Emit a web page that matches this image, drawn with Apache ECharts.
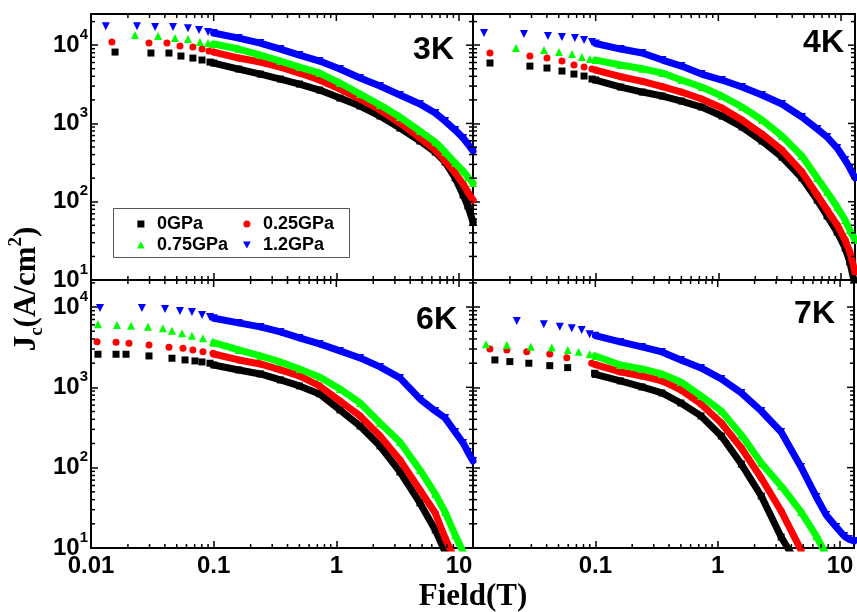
<!DOCTYPE html>
<html><head><meta charset="utf-8">
<script src="https://cdn.jsdelivr.net/npm/echarts@6/dist/echarts.min.js"></script>
<style>html,body{margin:0;padding:0;background:#fff}#c{width:857px;height:612px}</style>
</head><body><div id="c"></div>
<script>
// ---------- data ----------
const seriesNames = ['0GPa', '0.25GPa', '0.75GPa', '1.2GPa'];
const panelLabels = ['3K', '4K', '6K', '7K'];
// common field grid (T) for the dense high-field part of every curve
const fieldGrid = [0.1, 0.16, 0.24, 0.35, 0.5, 0.73, 1.07, 1.56, 2.27, 3.3, 4.8, 6.4, 7.7, 9.3, 10.8, 11.8, 13];

// 3K
const k3_0GPa_lowB = [0.0157, 0.0308, 0.0432, 0.0541, 0.0677, 0.0803, 0.0933];
const k3_0GPa_lowJ = [8160, 7930, 7930, 7260, 6840, 6460, 6080];
const k3_0GPa_J = [5908, 4953, 4274, 3691, 3186, 2671, 2110, 1669, 1243, 873, 596, 431, 321, 201, 122, 88.1, 55.1];
const k3_025_lowB = [0.0148, 0.0297, 0.0416, 0.0531, 0.0677, 0.0804, 0.0915];
const k3_025_lowJ = [10960, 10650, 10650, 9730, 9460, 8920, 8410];
const k3_025_J = [8165, 6844, 6085, 5253, 4403, 3584, 2750, 2050, 1484, 1012, 651, 457, 331, 233, 168, 133, 105];
const k3_075_lowB = [0.0228, 0.0352, 0.0484, 0.0617, 0.0773, 0.090];
const k3_075_lowJ = [13500, 13100, 12300, 11950, 10960, 10650];
const k3_075_J = [10330, 8916, 7475, 6266, 5253, 4403, 3281, 2374, 1718, 1207, 800, 579, 431, 312, 247, 207, 173];
const k3_12_lowB = [0.0132, 0.0237, 0.0333, 0.0466, 0.0617, 0.0759, 0.090];
const k3_12_lowJ = [17500, 17500, 17000, 17000, 16500, 15600, 14700];
const k3_12_J = [14276, 12320, 10637, 8916, 7475, 6266, 4953, 3801, 3004, 2306, 1769, 1358, 1073, 824, 651, 546, 444];

// 4K
const k4_0GPa_lowB = [0.01375, 0.0291, 0.0401, 0.0531, 0.0665, 0.0804, 0.0933];
const k4_0GPa_lowJ = [5910, 5400, 5100, 4670, 4275, 4030, 3690];
const k4_0GPa_J = [3584, 2917, 2518, 2239, 1933, 1620, 1243, 900, 596, 372, 201, 105, 65.7, 41.0, 25.6, 17.0, 8.6];
const k4_025_lowB = [0.01375, 0.0291, 0.0401, 0.0531, 0.0665, 0.0804, 0.0933];
const k4_025_lowJ = [7930, 7260, 6840, 6270, 5570, 5250, 4950];
const k4_025_J = [4800, 3950, 3450, 2950, 2518, 2050, 1573, 1105, 732, 457, 240, 122, 78.4, 50.4, 32.4, 22.8, 12.7];
const k4_075_lowB = [0.0224, 0.0379, 0.0502, 0.0641, 0.0773, 0.0898];
const k4_075_lowJ = [9190, 8660, 8160, 7700, 7050, 6645];
const k4_075_J = [6450, 5570, 5000, 4400, 3584, 2917, 2239, 1620, 1105, 691, 383, 201, 133, 85.6, 58.4, 43.5, 32.4];
const k4_12_lowB = [0.0123, 0.026, 0.0408, 0.0531, 0.0677, 0.0804, 0.0933];
const k4_12_lowJ = [14270, 13860, 13060, 12690, 12320, 11610, 10960];
const k4_12_J = [10500, 8916, 7930, 6452, 5410, 4274, 3584, 2917, 2306, 1769, 1207, 848, 671, 485, 341, 269, 201];

// 6K
const k6_0GPa_lowB = [0.0114, 0.016, 0.0193, 0.0297, 0.0457, 0.0584, 0.0704, 0.0803, 0.0933];
const k6_0GPa_lowJ = [2584, 2584, 2584, 2461, 2304, 2194, 2133, 2072, 1996];
const k6_0GPa_J = [1900, 1647, 1469, 1237, 1041, 828, 523, 331, 186, 88.4, 36.4, 16.8, 8.9];
const k6_025_lowB = [0.0112, 0.016, 0.0204, 0.0297, 0.0432, 0.0562, 0.0677, 0.0818, 0.0987];
const k6_025_lowJ = [3709, 3645, 3542, 3375, 3159, 3069, 2923, 2784, 2660];
const k6_025_J = [2600, 2194, 1956, 1647, 1387, 1041, 677, 441, 248, 125, 52.8, 27.3, 13.3, 7.1];
const k6_075_lowB = [0.0114, 0.0163, 0.0212, 0.0291, 0.0386, 0.0457, 0.0552, 0.0665, 0.0818, 0.0987];
const k6_075_lowJ = [6107, 5986, 5861, 5700, 5445, 5082, 4718, 4403, 4086, 3697];
const k6_075_J = [3600, 2923, 2461, 2072, 1695, 1348, 955, 639, 360, 209, 93.6, 47.1, 28.1, 14.5, 8.9, 6.1];
const k6_12_lowB = [0.01184, 0.026, 0.0401, 0.0531, 0.0665, 0.0804, 0.0933];
const k6_12_lowJ = [9747, 9747, 9474, 8946, 8692, 7976, 7531];
const k6_12_J = [7250, 6340, 5655, 4898, 4124, 3472, 2841, 2324, 1796, 1310, 717, 508, 416, 278, 203, 157, 121];

// 7K
const k7_0GPa_lowB = [0.0151, 0.02, 0.0286, 0.0424, 0.0594, 0.0986];
const k7_0GPa_lowJ = [2194, 2092, 1996, 1864, 1760, 1498];
const k7_0GPa_J = [1450, 1202, 1012, 852, 639, 441, 248, 111, 44.4, 13.7, 5.3];
const k7_025_lowB = [0.01375, 0.0189, 0.0275, 0.0424, 0.0584, 0.0933];
const k7_025_lowJ = [3009, 2923, 2784, 2607, 2344, 1996];
const k7_025_J = [1920, 1556, 1387, 1202, 928, 621, 360, 176, 74.4, 28.9, 9.4];
const k7_075_lowB = [0.01277, 0.0189, 0.0297, 0.044, 0.0594, 0.0731, 0.0898];
const k7_075_lowJ = [3442, 3375, 3213, 3123, 2923, 2784, 2584];
const k7_075_J = [2460, 1902, 1695, 1469, 1168, 782, 508, 256, 114, 59.2, 28.1, 14.1, 8.2];
const k7_12_lowB = [0.0228, 0.0379, 0.0512, 0.0641, 0.0773, 0.0898];
const k7_12_lowJ = [6714, 6107, 5700, 5445, 5186, 4585];
const k7_12_J = [4400, 3677, 3186, 2760, 2194, 1745, 1273, 852, 508, 278, 102, 43.2, 25.8, 18.3, 14.1, 12.9, 12.2];

// axis ticks
const majorField = [0.01, 0.1, 1, 10];
const minorField = [0.02, 0.03, 0.04, 0.05, 0.06, 0.07, 0.08, 0.09, 0.2, 0.3, 0.4, 0.5, 0.6, 0.7, 0.8, 0.9, 2, 3, 4, 5, 6, 7, 8, 9];
const majorJc = [10, 100, 1000, 10000];
const minorJc = [20, 30, 40, 50, 60, 70, 80, 90, 200, 300, 400, 500, 600, 700, 800, 900, 2000, 3000, 4000, 5000, 6000, 7000, 8000, 9000, 20000];

// ---------- chart ----------
const panels = [
  [[k3_0GPa_lowB, k3_0GPa_lowJ, k3_0GPa_J], [k3_025_lowB, k3_025_lowJ, k3_025_J], [k3_075_lowB, k3_075_lowJ, k3_075_J], [k3_12_lowB, k3_12_lowJ, k3_12_J]],
  [[k4_0GPa_lowB, k4_0GPa_lowJ, k4_0GPa_J], [k4_025_lowB, k4_025_lowJ, k4_025_J], [k4_075_lowB, k4_075_lowJ, k4_075_J], [k4_12_lowB, k4_12_lowJ, k4_12_J]],
  [[k6_0GPa_lowB, k6_0GPa_lowJ, k6_0GPa_J], [k6_025_lowB, k6_025_lowJ, k6_025_J], [k6_075_lowB, k6_075_lowJ, k6_075_J], [k6_12_lowB, k6_12_lowJ, k6_12_J]],
  [[k7_0GPa_lowB, k7_0GPa_lowJ, k7_0GPa_J], [k7_025_lowB, k7_025_lowJ, k7_025_J], [k7_075_lowB, k7_075_lowJ, k7_075_J], [k7_12_lowB, k7_12_lowJ, k7_12_J]]
];

const SANS = '"Liberation Sans", Arial, Helvetica, sans-serif';
const SERIF = '"Liberation Serif", "Times New Roman", Times, serif';
const X_MIN = 0.01, X_MAX = 13, Y_MIN = 10;
const yMax = [25000, 25000, 21700, 21700];
const gridBoxes = [
  {left: 91, top: 14, width: 382, height: 266},
  {left: 473, top: 14, width: 382, height: 266},
  {left: 91, top: 280, width: 382, height: 268},
  {left: 473, top: 280, width: 382, height: 268}
];
const labelPos = [[454, 50], [844, 43], [457, 320], [835, 314]];

const curveStyle = [
  {symbol: 'rect', size: 7, color: '#000000', rotate: 0, icon: 'path://M0,0L10,0L10,10L0,10Z'},
  {symbol: 'circle', size: 7, color: '#ff0000', rotate: 0, icon: 'circle'},
  {symbol: 'triangle', size: 8, color: '#00ff00', rotate: 0, icon: 'path://M5,0L10,9L0,9Z'},
  {symbol: 'triangle', size: 8, color: '#0000ff', rotate: 180, icon: 'path://M0,0L10,0L5,9Z'}
];

function decade(v) {
  const l = Math.log10(v);
  const e = Math.round(l);
  return Math.abs(l - e) < 1e-6 ? e : null;
}

const grid = [], xAxis = [], yAxis = [], series = [];
gridBoxes.forEach((g, i) => {
  grid.push(Object.assign({show: true, borderColor: '#000', borderWidth: 2, backgroundColor: 'transparent', containLabel: false}, g));
  xAxis.push({
    type: 'log', logBase: 10, gridIndex: i, min: X_MIN, max: X_MAX,
    axisLine: {show: true, onZero: false, lineStyle: {color: '#000', width: 2}},
    axisTick: {show: true, inside: true, length: 7, lineStyle: {color: '#000', width: 1.5}},
    splitLine: {show: false}, minorTick: {show: false},
    axisLabel: {
      show: i >= 2, margin: 6, color: '#000', fontSize: 24, fontWeight: 'bold', fontFamily: SANS,
      formatter: function (v) {
        const e = decade(v);
        if (e === null) return '';
        if (i === 3 && e === -2) return '';
        return e < 0 ? v.toFixed(-e) : String(Math.round(v));
      }
    }
  });
  yAxis.push({
    type: 'log', logBase: 10, gridIndex: i, min: Y_MIN, max: yMax[i],
    axisLine: {show: true, onZero: false, lineStyle: {color: '#000', width: 2}},
    axisTick: {show: true, inside: true, length: 7, lineStyle: {color: '#000', width: 1.5}},
    splitLine: {show: false}, minorTick: {show: false},
    axisLabel: {
      show: i === 0 || i === 2, margin: 3, color: '#000', fontFamily: SANS,
      formatter: function (v) {
        const e = decade(v);
        if (e === null) return '';
        return '{b|10}{e|' + e + '}';
      },
      rich: {
        b: {fontSize: 24, fontWeight: 'bold', fontFamily: SANS, color: '#000', lineHeight: 36},
        e: {fontSize: 15, fontWeight: 'bold', fontFamily: SANS, color: '#000', lineHeight: 15, verticalAlign: 'top'}
      }
    }
  });

  // curves: markers (named, used by the legend) + thick band for the dense part (unnamed)
  panels[i].forEach((c, ci) => {
    const lowB = c[0], lowJ = c[1], J = c[2];
    const st = curveStyle[ci];
    const pts = lowB.map((b, k) => [b, lowJ[k]]).concat(J.map((j, k) => [fieldGrid[k], j]));
    series.push({
      type: 'scatter', name: seriesNames[ci], xAxisIndex: i, yAxisIndex: i, data: pts,
      symbol: st.symbol, symbolSize: st.size, symbolRotate: st.rotate,
      itemStyle: {color: st.color, opacity: 1}, silent: true, z: 2 + ci
    });
    series.push({
      type: 'line', xAxisIndex: i, yAxisIndex: i,
      data: J.map((j, k) => [fieldGrid[k], j]),
      symbol: 'none', showSymbol: false,
      lineStyle: {color: st.color, width: 7, cap: 'round', join: 'round'},
      itemStyle: {color: st.color}, silent: true, z: 2 + ci
    });
  });

  // mirrored + minor ticks
  const td = [];
  majorField.forEach(v => td.push([v, Y_MIN, 0]));
  minorField.forEach(v => td.push([v, Y_MIN, 1]));
  majorJc.forEach(v => td.push([X_MIN, v, 2]));
  minorJc.filter(v => v < yMax[i]).forEach(v => td.push([X_MIN, v, 3]));
  series.push({
    type: 'custom', xAxisIndex: i, yAxisIndex: i, silent: true, clip: false, z: 10,
    data: td, encode: {x: 0, y: 1},
    renderItem: function (params, api) {
      const cs = params.coordSys;
      const kind = api.value(2);
      const st = {stroke: '#000', lineWidth: 1.5};
      const L = (kind === 0 || kind === 2) ? 7 : 4;
      const ch = [];
      if (kind < 2) {
        const x = api.coord([api.value(0), Y_MIN])[0];
        ch.push({type: 'line', shape: {x1: x, y1: cs.y, x2: x, y2: cs.y + L}, style: st});
        if (kind === 1) ch.push({type: 'line', shape: {x1: x, y1: cs.y + cs.height, x2: x, y2: cs.y + cs.height - L}, style: st});
      } else {
        const y = api.coord([X_MIN, api.value(1)])[1];
        ch.push({type: 'line', shape: {x1: cs.x + cs.width, y1: y, x2: cs.x + cs.width - L, y2: y}, style: st});
        if (kind === 3) ch.push({type: 'line', shape: {x1: cs.x, y1: y, x2: cs.x + L, y2: y}, style: st});
      }
      return {type: 'group', children: ch};
    }
  });
});

const graphic = [];
// legend frame
graphic.push({type: 'rect', left: 113, top: 208, z: 50, silent: true,
  shape: {width: 236, height: 49}, style: {fill: '#fff', stroke: '#555', lineWidth: 1}});
panelLabels.forEach((t, i) => {
  graphic.push({type: 'text', x: labelPos[i][0], y: labelPos[i][1], z: 20,
    style: {text: t, align: 'right', verticalAlign: 'middle', fill: '#000', fontSize: 32, fontWeight: 'bold', fontFamily: SANS}});
});
graphic.push({type: 'text', x: 473, y: 597, z: 20,
  style: {text: 'Field(T)', align: 'center', verticalAlign: 'middle', fill: '#000', fontSize: 31, fontWeight: 'bold', fontFamily: SERIF}});
graphic.push({type: 'text', x: 27, y: 289, rotation: Math.PI / 2, z: 20,
  style: {
    text: '{a|J}{s|c}{a|(A/cm}{p|2}{a|)}', align: 'center', verticalAlign: 'middle',
    rich: {
      a: {fontSize: 31, fontWeight: 'bold', fontFamily: SERIF, fill: '#000', color: '#000', lineHeight: 40},
      s: {fontSize: 19, fontWeight: 'bold', fontFamily: SERIF, fill: '#000', color: '#000', lineHeight: 19, verticalAlign: 'bottom'},
      p: {fontSize: 19, fontWeight: 'bold', fontFamily: SERIF, fill: '#000', color: '#000', lineHeight: 19, verticalAlign: 'top'}
    }
  }});

function legendColumn(left, idxs) {
  return {
    left: left, top: 215, orient: 'vertical', z: 60, zlevel: 0,
    data: idxs.map(ci => ({name: seriesNames[ci], icon: curveStyle[ci].icon, itemStyle: {color: curveStyle[ci].color}})),
    itemWidth: 22, itemHeight: 7, itemGap: 3, padding: 0, selectedMode: false,
    textStyle: {fontSize: 18, fontWeight: 'bold', color: '#000', fontFamily: SANS}
  };
}

const chart = echarts.init(document.getElementById('c'), null, {renderer: 'canvas', width: 857, height: 612});
chart.setOption({
  animation: false,
  backgroundColor: '#ffffff',
  grid: grid, xAxis: xAxis, yAxis: yAxis, series: series, graphic: graphic,
  legend: [legendColumn(137, [0, 2]), legendColumn(243, [1, 3])]
});
</script></body></html>
